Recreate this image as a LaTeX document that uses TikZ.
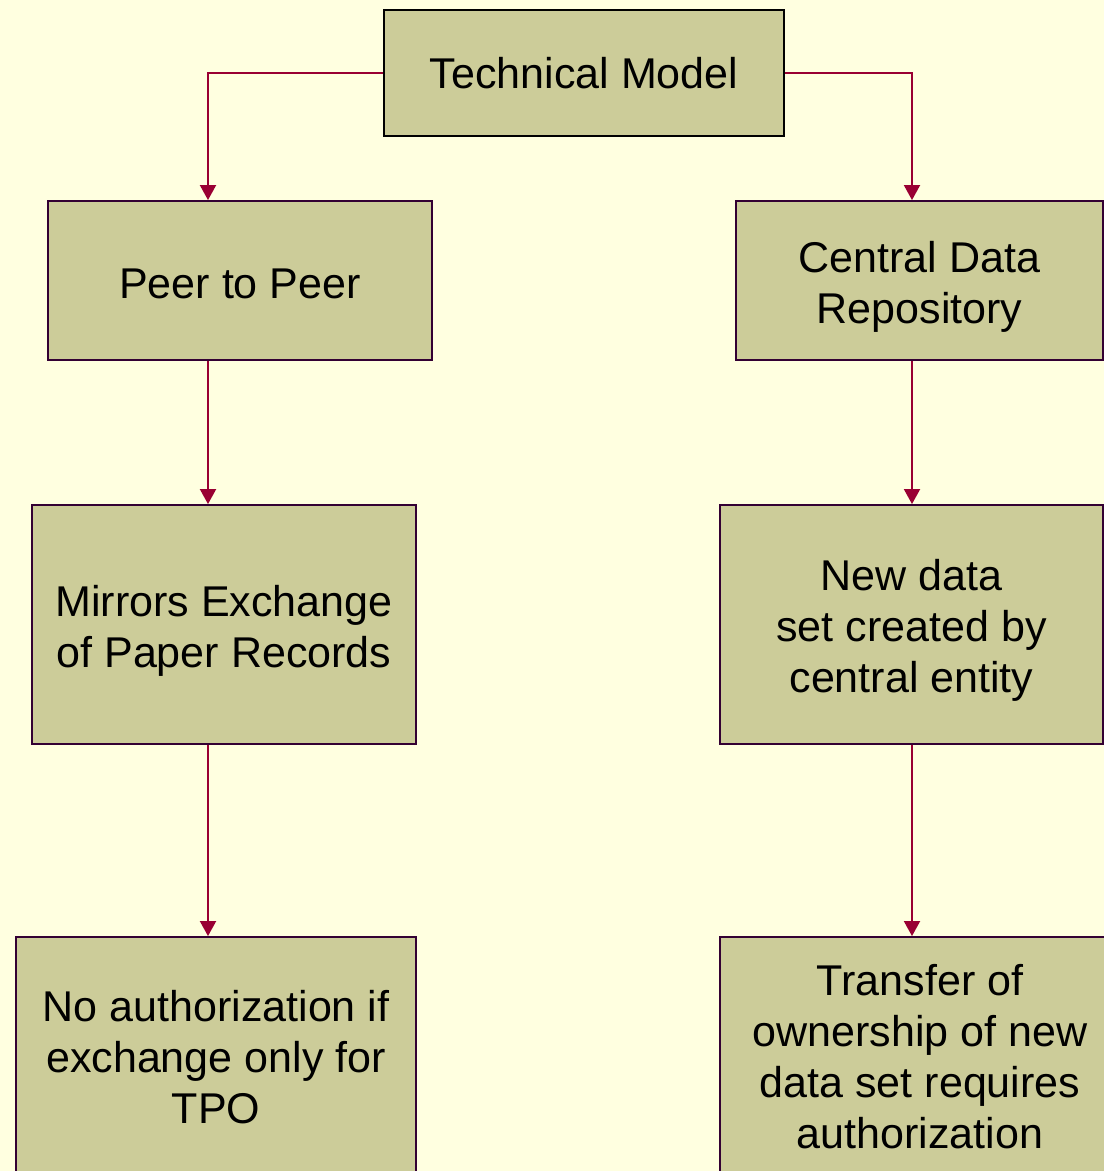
\documentclass[tikz,border=0pt]{standalone}
\usepackage{fontspec}
\setmainfont{Liberation Sans}
\usetikzlibrary{arrows.meta}
\definecolor{pagebg}{HTML}{FFFFE0}
\definecolor{boxfill}{HTML}{CCCC99}
\definecolor{boxline}{HTML}{330033}
\definecolor{linkred}{HTML}{990033}
% tall strut on a first line pushes the text block slightly down
\newcommand{\lift}[1]{\rule{0pt}{#1}}
\tikzset{
  box/.style={draw=boxline, fill=boxfill, line width=1.1pt, align=center,
    inner sep=0pt, font=\fontsize{24.5pt}{29pt}\selectfont},
  link/.style={draw=linkred, line width=1.1pt, -{Triangle[width=0.32cm,length=0.3cm]}}
}
\begin{document}
\begin{tikzpicture}[x=0.02cm, y=-0.02cm]
  \useasboundingbox (0,0) rectangle (1104,1171);
  \clip (0,0) rectangle (1104,1171);
  \fill[pagebg] (0,0) rectangle (1104,1171);

  % column lines for the connectors
  \coordinate (L) at (208,0);
  \coordinate (R) at (912,0);

  \node[box, draw=black, minimum width=8cm, minimum height=2.52cm] (top) at (584,73) {Technical Model};
  \node[box, minimum width=7.68cm, minimum height=3.18cm] (peer) at (240,280.5) {\lift{20.5pt}Peer to Peer};
  \node[box, minimum width=7.34cm, minimum height=3.18cm] (cent) at (919.5,280.5) {\lift{24.5pt}Central Data\\Repository};
  \node[box, minimum width=7.68cm, minimum height=4.78cm] (mir) at (224,624.5) {\lift{24.5pt}Mirrors Exchange\\of Paper Records};
  \node[box, minimum width=7.66cm, minimum height=4.78cm] (new) at (911.5,624.5) {\lift{24.5pt}New data\\set created by\\central entity};
  \node[box, minimum width=8cm, minimum height=4.8cm] (noauth) at (216,1057) {No authorization if\\exchange only for\\TPO};
  \node[box, minimum width=8cm, minimum height=4.8cm] (xfer) at (920,1057) {Transfer of\\ownership of new\\data set requires\\authorization};

  \draw[link] (top.west) -| (L |- peer.north);
  \draw[link] (top.east) -| (R |- cent.north);
  \draw[link] (L |- peer.south) -- (L |- mir.north);
  \draw[link] (L |- mir.south) -- (L |- noauth.north);
  \draw[link] (R |- cent.south) -- (R |- new.north);
  \draw[link] (R |- new.south) -- (R |- xfer.north);
\end{tikzpicture}
\end{document}
